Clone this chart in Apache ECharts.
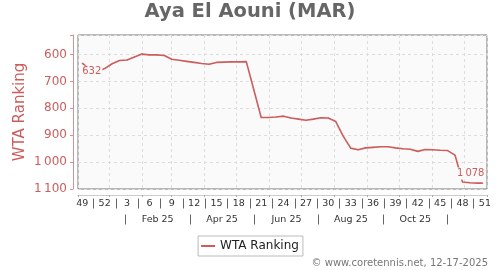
<!DOCTYPE html>
<html><head><meta charset="utf-8">
<script src="https://cdn.jsdelivr.net/npm/echarts@6/dist/echarts.min.js"></script>
<style>html,body{margin:0;padding:0;background:#fff}#c{width:500px;height:270px}</style>
</head><body><div id="c"></div>
<script>
const titleText = 'Aya El Aouni (MAR)';
const seriesName = 'WTA Ranking';
const footerText = '\u00A9 www.coretennis.net, 12-17-2025';
const dates = [
 '2024-12-07','2024-12-14','2024-12-21','2024-12-28',
 '2025-01-04','2025-01-11','2025-01-18','2025-01-25',
 '2025-02-01','2025-02-08','2025-02-15','2025-02-22',
 '2025-03-01','2025-03-08','2025-03-15','2025-03-22','2025-03-29',
 '2025-04-05','2025-04-12','2025-04-19','2025-04-26',
 '2025-05-03','2025-05-10','2025-05-17','2025-05-24','2025-05-31',
 '2025-06-07','2025-06-14','2025-06-21','2025-06-28',
 '2025-07-05','2025-07-12','2025-07-19','2025-07-26',
 '2025-08-02','2025-08-09','2025-08-16','2025-08-23','2025-08-30',
 '2025-09-06','2025-09-13','2025-09-20','2025-09-27',
 '2025-10-04','2025-10-11','2025-10-18','2025-10-25',
 '2025-11-01','2025-11-08','2025-11-15','2025-11-22','2025-11-29',
 '2025-12-06','2025-12-13','2025-12-18'
];
const ranks = [
 632,655,664,652,634,622,620,609,598,601,
 601,603,617,621,625,629,633,636,629,628,
 627,627,626,730,834,834,832,829,836,840,
 844,840,835,836,849,903,948,954,947,945,
 943,943,947,950,952,960,953,954,956,957,
 974,1074,1077,1078,1078
];
const weekLabels = ['49','52','3','6','9','12','15','18','21','24','27','30','33','36','39','42','45','48','51'];
const monthLabels = ['Feb 25','Apr 25','Jun 25','Aug 25','Oct 25'];
const xStart = '2024-12-03';
const xEnd = '2025-12-22';
const yMin = 527, yMax = 1100;

function fmt(v){
  v = Math.round(v);
  if (v >= 1000) return Math.floor(v/1000) + '\u2009' + String(v % 1000).padStart(3,'0');
  return String(v);
}
const RED = '#cd5c5c';
const last = ranks.length - 1;
const seriesData = dates.map((d,i) => {
  const item = {value:[d, ranks[i]]};
  if (i === 0) item.label = {show:true, position:'inside', offset:[9.5, 8.5]};
  if (i === last) item.label = {show:true, position:'inside', offset:[-12, -9.5]};
  return item;
});

const chart = echarts.init(document.getElementById('c'), null, {renderer:'canvas'});
chart.setOption({
  animation:false,
  textStyle:{fontFamily:'DejaVu Sans'},
  title:[
    {text:titleText, left:'center', top:2, padding:0,
     textStyle:{fontSize:19.5, fontWeight:'bold', color:'#666', fontFamily:'DejaVu Sans'}},
    {text:footerText, right:12, top:258, padding:0,
     textStyle:{fontSize:10, fontWeight:'normal', color:'#777', fontFamily:'DejaVu Sans'}}
  ],
  legend:{data:[seriesName], left:'center', top:236, icon:'rect', itemWidth:14, itemHeight:2,
    padding:[4,4,4,3], borderColor:'#bbb', borderWidth:1, borderRadius:0,
    textStyle:{fontSize:12, color:'#222', fontFamily:'DejaVu Sans'}},
  grid:[
    {left:78, right:13, top:35, bottom:81, show:true, backgroundColor:'#fafafa', borderColor:'#777', borderWidth:1},
    {left:82.3, right:15.1, top:150, bottom:71.5},
    {left:93.3, right:20.3, top:150, bottom:55.5}
  ],
  xAxis:[
    {gridIndex:0, type:'time', min:xStart, max:xEnd, position:'bottom', offset:6,
     splitNumber:13, minInterval:28*864e5, maxInterval:31*864e5,
     axisLine:{show:true, lineStyle:{color:'#ccc'}},
     axisTick:{show:true, length:2, lineStyle:{color:'#aaa'}},
     axisLabel:{show:false},
     splitLine:{show:true, lineStyle:{color:'#ddd', type:[3,3]}}},
    {gridIndex:1, type:'value', min:0, max:54, interval:3,
     axisLine:{show:false}, axisTick:{show:false},
     minorTick:{show:true, splitNumber:2, length:10, lineStyle:{color:'#666'}},
     splitLine:{show:false}, minorSplitLine:{show:false},
     axisLabel:{fontSize:9.5, color:'#333', margin:0, fontFamily:'DejaVu Sans',
       formatter:v => weekLabels[Math.round(v/3)] || ''}},
    {gridIndex:2, type:'value', min:-2, max:10, interval:2,
     axisLine:{show:false}, axisTick:{show:false},
     minorTick:{show:true, splitNumber:2, length:10, lineStyle:{color:'#666'}},
     splitLine:{show:false}, minorSplitLine:{show:false},
     axisLabel:{fontSize:9.5, color:'#333', margin:0, fontFamily:'DejaVu Sans',
       formatter:v => (v >= 0 && monthLabels[v/2]) || ''}}
  ],
  yAxis:[
    {gridIndex:0, type:'value', inverse:true, min:yMin, max:yMax, offset:5,
     axisLine:{show:true, lineStyle:{color:'#d89090'}},
     axisTick:{show:true, length:3, lineStyle:{color:'#d89090'}},
     axisLabel:{color:RED, fontSize:12, margin:6, fontFamily:'DejaVu Sans',
       formatter:v => (Math.round(v) % 100 === 0 ? fmt(v) : '')},
     splitLine:{show:true, lineStyle:{color:'#ddd', type:[3,3]}},
     name:seriesName, nameLocation:'middle', nameGap:45, nameMoveOverlap:false,
     nameTextStyle:{color:RED, fontSize:15, fontFamily:'DejaVu Sans'}},
    {gridIndex:1, type:'value', show:false},
    {gridIndex:2, type:'value', show:false}
  ],
  series:[{
    name:seriesName, type:'line', xAxisIndex:0, yAxisIndex:0,
    data:seriesData, showSymbol:true, showAllSymbol:true, symbol:'circle', symbolSize:1,
    itemStyle:{color:RED}, lineStyle:{color:RED, width:1.6},
    label:{show:false, color:RED, fontSize:10, fontFamily:'DejaVu Sans', backgroundColor:'#fafafa',
      padding:[1,1], formatter:p => fmt(p.value[1])},
    emphasis:{disabled:true}
  }]
});
</script></body></html>
